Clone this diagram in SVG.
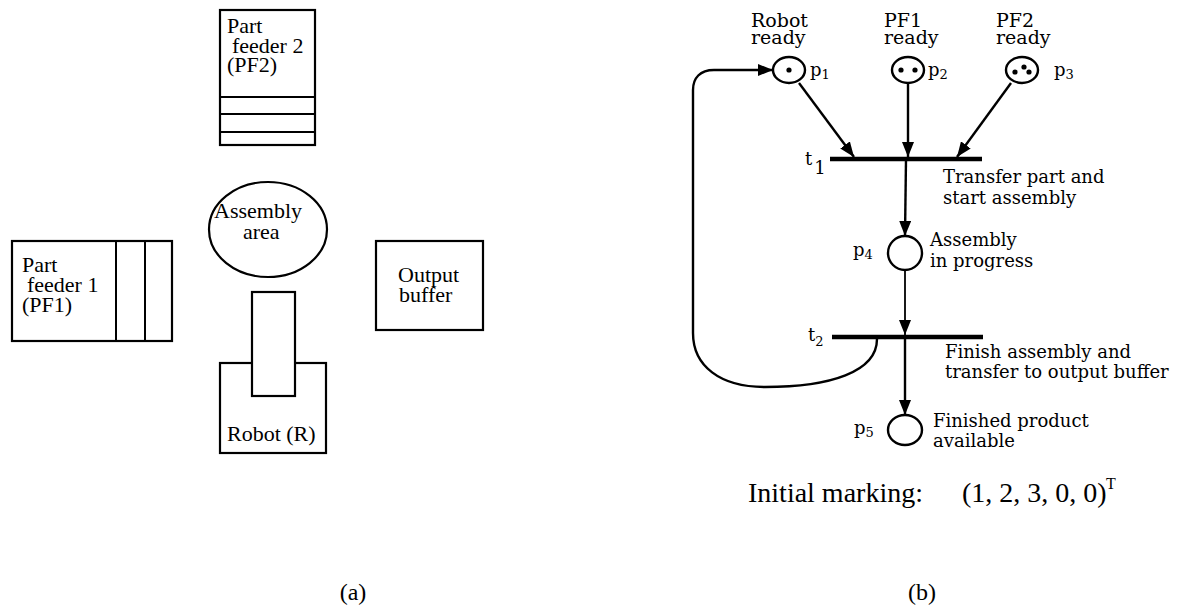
<svg xmlns="http://www.w3.org/2000/svg" width="1183" height="609" viewBox="0 0 1183 609">
  <style>
    .bg { fill: #ffffff; }
    .box { fill: #ffffff; stroke: #000000; stroke-width: 2.2; }
    .thin { fill: none; stroke: #000000; stroke-width: 2; }
    .lay { font-family: "Liberation Serif", "Times New Roman", serif; font-size: 22px; fill: #000000; }
    .lbl { font-family: "DejaVu Serif", "Liberation Serif", serif; font-size: 18px; fill: #000000; }
    .head { font-size: 19px; }
    .sub { font-size: 13px; }
    .place { fill: #ffffff; stroke: #000000; stroke-width: 2.4; }
    .token { fill: #000000; }
    .bar { stroke: #000000; stroke-width: 4.5; }
    .arc { fill: none; stroke: #000000; stroke-width: 2.4; }
    .cap { font-family: "Liberation Serif", "Times New Roman", serif; font-size: 28px; fill: #000000; }
    .tag { font-family: "Liberation Serif", "Times New Roman", serif; font-size: 24px; fill: #000000; }
  </style>
  <defs>
    <marker id="head" markerUnits="userSpaceOnUse" markerWidth="16" markerHeight="12" refX="15" refY="6" orient="auto">
      <path d="M0,0 L15,6 L0,12 Z" fill="#000000"/>
    </marker>
  </defs>

  <rect class="bg" x="0" y="0" width="1183" height="609"/>

  <!-- (a) cell layout -->
  <g id="part-feeder-2">
    <rect class="box" x="220" y="10" width="95" height="135"/>
    <line class="thin" x1="220" y1="97" x2="315" y2="97"/>
    <line class="thin" x1="220" y1="114" x2="315" y2="114"/>
    <line class="thin" x1="220" y1="132" x2="315" y2="132"/>
    <text class="lay" x="227" y="33">Part</text>
    <text class="lay" x="232" y="53">feeder 2</text>
    <text class="lay" x="227" y="72">(PF2)</text>
  </g>

  <g id="assembly-area">
    <ellipse class="box" cx="268" cy="229.5" rx="59" ry="47.5"/>
    <text class="lay" x="214" y="218">Assembly</text>
    <text class="lay" x="243" y="239">area</text>
  </g>

  <g id="part-feeder-1">
    <rect class="box" x="12" y="241" width="160" height="100"/>
    <line class="thin" x1="116" y1="241" x2="116" y2="341"/>
    <line class="thin" x1="145" y1="241" x2="145" y2="341"/>
    <text class="lay" x="22" y="272">Part</text>
    <text class="lay" x="27" y="292">feeder 1</text>
    <text class="lay" x="22" y="312">(PF1)</text>
  </g>

  <g id="output-buffer">
    <rect class="box" x="376" y="241" width="107" height="89"/>
    <text class="lay" x="398" y="282">Output</text>
    <text class="lay" x="399" y="302">buffer</text>
  </g>

  <g id="robot">
    <rect class="box" x="220" y="363" width="106" height="90"/>
    <rect class="box" x="252" y="292" width="43" height="104"/>
    <text class="lay" x="227" y="441">Robot (R)</text>
  </g>

  <text class="tag" x="353" y="600" text-anchor="middle">(a)</text>

  <!-- (b) Petri net -->
  <g id="connectors">
    <line class="arc" x1="799" y1="83" x2="854" y2="157" marker-end="url(#head)"/>
    <line class="arc" x1="908" y1="84" x2="908" y2="157" marker-end="url(#head)"/>
    <line class="arc" x1="1011" y1="83" x2="957" y2="157" marker-end="url(#head)"/>
    <line class="arc" x1="906" y1="159" x2="905" y2="236" marker-end="url(#head)"/>
    <line class="arc" style="stroke-width:1.8" x1="905" y1="270" x2="905" y2="335" marker-end="url(#head)"/>
    <line class="arc" x1="905" y1="337" x2="905" y2="415" marker-end="url(#head)"/>
    <path class="arc" d="M 877 339 C 877 372, 830 387, 765 387 C 720 387, 693 366, 693 333 L 693 90 C 693 78, 700 70, 714 70 L 773 70" marker-end="url(#head)"/>
  </g>

  <g id="p1">
    <ellipse class="place" cx="789" cy="70" rx="16" ry="13"/>
    <circle class="token" cx="789" cy="70" r="2.6"/>
    <text class="lbl head" x="751" y="27">Robot</text>
    <text class="lbl head" x="751" y="44">ready</text>
    <text class="lbl" x="810" y="76">p<tspan class="sub" dy="3">1</tspan></text>
  </g>

  <g id="p2">
    <ellipse class="place" cx="908" cy="70" rx="16" ry="13"/>
    <circle class="token" cx="901" cy="70" r="2.6"/>
    <circle class="token" cx="915" cy="70" r="2.6"/>
    <text class="lbl head" x="884" y="27">PF1</text>
    <text class="lbl head" x="884" y="44">ready</text>
    <text class="lbl" x="928" y="76">p<tspan class="sub" dy="3">2</tspan></text>
  </g>

  <g id="p3">
    <ellipse class="place" cx="1022" cy="70" rx="16" ry="13"/>
    <circle class="token" cx="1015" cy="72" r="2.6"/>
    <circle class="token" cx="1024" cy="67" r="2.6"/>
    <circle class="token" cx="1029" cy="72" r="2.6"/>
    <text class="lbl head" x="996" y="27">PF2</text>
    <text class="lbl head" x="996" y="44">ready</text>
    <text class="lbl" x="1054" y="76">p<tspan class="sub" dy="3">3</tspan></text>
  </g>

  <g id="t1">
    <line class="bar" x1="830" y1="159" x2="982" y2="159"/>
    <text class="lbl" x="805" y="165">t<tspan dx="2" dy="9">1</tspan></text>
    <text class="lbl" x="943" y="183">Transfer part and</text>
    <text class="lbl" x="943" y="204">start assembly</text>
  </g>

  <g id="p4">
    <ellipse class="place" cx="905" cy="253" rx="17" ry="17"/>
    <text class="lbl" x="853" y="256">p<tspan class="sub" dy="3">4</tspan></text>
    <text class="lbl" x="930" y="246">Assembly</text>
    <text class="lbl" x="930" y="267">in progress</text>
  </g>

  <g id="t2">
    <line class="bar" x1="832" y1="337" x2="983" y2="337"/>
    <text class="lbl" x="808" y="341">t<tspan class="sub" dy="5">2</tspan></text>
    <text class="lbl" x="945" y="358">Finish assembly and</text>
    <text class="lbl" x="945" y="378">transfer to output buffer</text>
  </g>

  <g id="p5">
    <ellipse class="place" cx="905" cy="430" rx="17" ry="15"/>
    <text class="lbl" x="854" y="434">p<tspan class="sub" dy="3">5</tspan></text>
    <text class="lbl" x="933" y="427">Finished product</text>
    <text class="lbl" x="933" y="447">available</text>
  </g>

  <g id="marking">
    <text class="cap" x="748" y="502">Initial marking:</text>
    <text class="cap" x="962" y="502">(1, 2, 3, 0, 0)</text>
    <text class="cap" style="font-size:16px" x="1106" y="489">T</text>
  </g>

  <text class="tag" x="922" y="600" text-anchor="middle">(b)</text>
</svg>
